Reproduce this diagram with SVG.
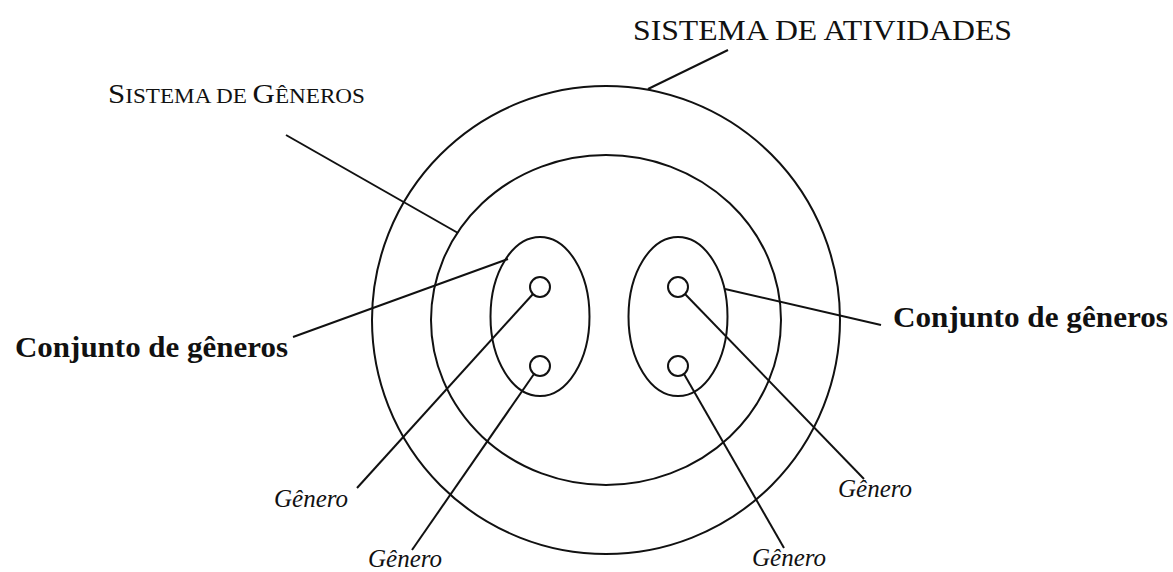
<svg xmlns="http://www.w3.org/2000/svg" width="1173" height="572" viewBox="0 0 1173 572">
  <style>
    .shape { fill: none; stroke: #111; stroke-width: 2; }
    .conn line { stroke: #111; stroke-width: 2; }
    .serif { font-family: "Liberation Serif", "DejaVu Serif", serif; fill: #111; }
    .title { font-size: 30px; }
    .bold { font-size: 29px; font-weight: bold; }
    .gen { font-size: 25px; font-style: italic; }
    .big { font-size: 28px; }
    .small { font-size: 21px; }
  </style>
  <rect width="1173" height="572" fill="#fff"/>

  <g id="sistema-atividades">
    <circle class="shape" cx="606" cy="320" r="234"/>
    <text class="serif title" x="633" y="40" textLength="379" lengthAdjust="spacingAndGlyphs">SISTEMA DE ATIVIDADES</text>
  </g>

  <g id="sistema-generos">
    <ellipse class="shape" cx="606" cy="320" rx="175" ry="165"/>
    <text class="serif" x="108" y="103" textLength="257" lengthAdjust="spacingAndGlyphs"><tspan class="big">S</tspan><tspan class="small">ISTEMA DE </tspan><tspan class="big">G</tspan><tspan class="small">ÊNEROS</tspan></text>
  </g>

  <g id="conjunto-esquerdo">
    <ellipse class="shape" cx="540" cy="316.5" rx="49.5" ry="79.5"/>
    <text class="serif bold" x="15" y="357" textLength="273" lengthAdjust="spacingAndGlyphs">Conjunto de gêneros</text>
  </g>

  <g id="conjunto-direito">
    <ellipse class="shape" cx="678" cy="316.5" rx="49.5" ry="79.5"/>
    <text class="serif bold" x="893" y="327" textLength="275" lengthAdjust="spacingAndGlyphs">Conjunto de gêneros</text>
  </g>

  <g id="genero-1">
    <circle class="shape" cx="540" cy="287" r="10"/>
    <text class="serif gen" x="274" y="507">Gênero</text>
  </g>
  <g id="genero-2">
    <circle class="shape" cx="540" cy="366" r="10"/>
    <text class="serif gen" x="368" y="567">Gênero</text>
  </g>
  <g id="genero-3">
    <circle class="shape" cx="678" cy="287" r="10"/>
    <text class="serif gen" x="838" y="497">Gênero</text>
  </g>
  <g id="genero-4">
    <circle class="shape" cx="678" cy="366" r="10"/>
    <text class="serif gen" x="752" y="566">Gênero</text>
  </g>

  <g id="connectors" class="conn">
    <line x1="728" y1="50" x2="648" y2="89"/>
    <line x1="286" y1="135" x2="458" y2="233"/>
    <line x1="293" y1="337" x2="508" y2="259"/>
    <line x1="725" y1="289" x2="881" y2="325"/>
    <line x1="533" y1="294" x2="357" y2="488"/>
    <line x1="534" y1="374" x2="412" y2="550"/>
    <line x1="684" y1="374" x2="784" y2="548"/>
    <line x1="685" y1="294" x2="864" y2="479"/>
  </g>
</svg>
